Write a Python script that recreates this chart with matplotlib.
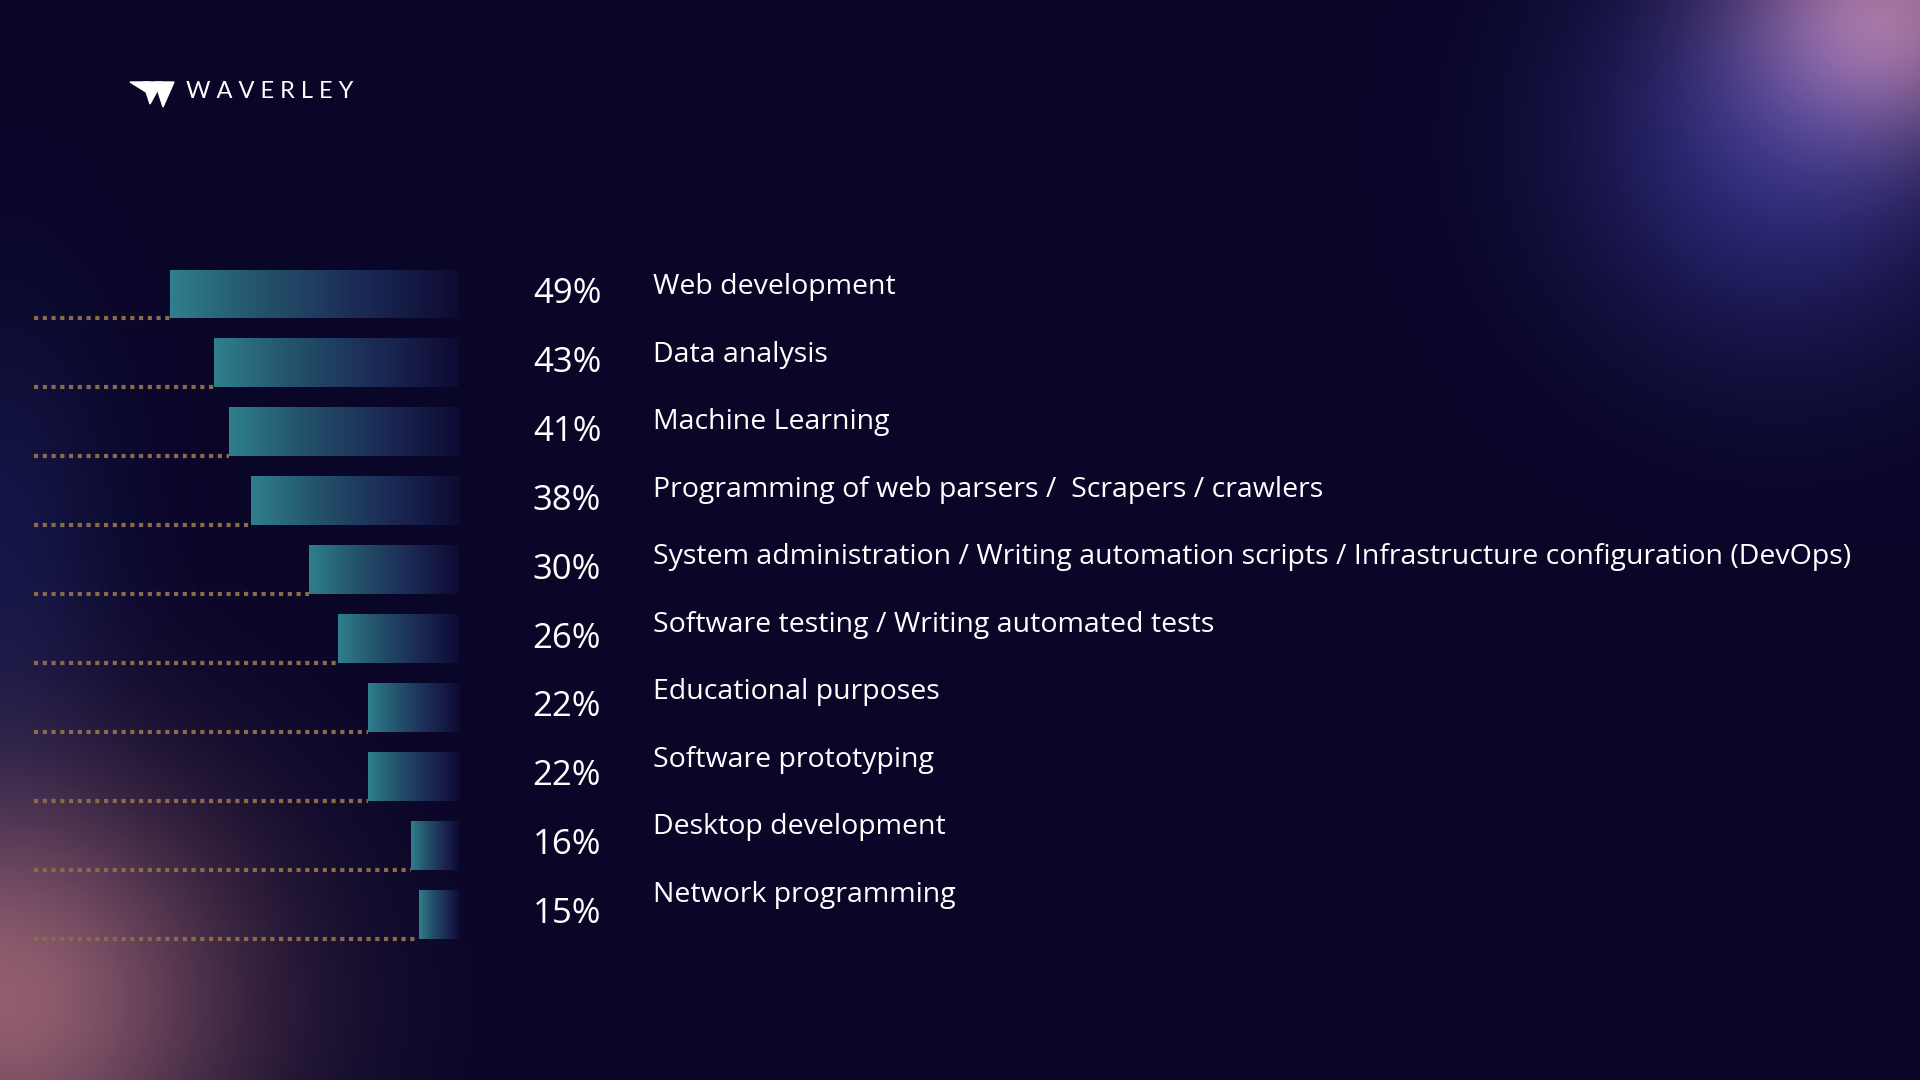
import numpy as np
import matplotlib.pyplot as plt
from matplotlib.patches import Polygon
from matplotlib.transforms import blended_transform_factory

categories = [
    "Web development",
    "Data analysis",
    "Machine Learning",
    "Programming of web parsers /  Scrapers / crawlers",
    "System administration / Writing automation scripts / Infrastructure configuration (DevOps)",
    "Software testing / Writing automated tests",
    "Educational purposes",
    "Software prototyping",
    "Desktop development",
    "Network programming",
]
values = [49, 43, 41, 38, 30, 26, 22, 22, 16, 15]

W, H = 1920, 1080
BG = np.array([10, 6, 40]) / 255

fig = plt.figure(figsize=(19.2, 10.8), dpi=100)

# background with soft glows
bg = fig.add_axes([0, 0, 1, 1])
yy, xx = np.mgrid[0:H:2, 0:W:2]
img = np.ones(yy.shape + (3,)) * BG


def glow(cx, cy, rx, ry, color, strength):
    d = ((xx - cx) / rx) ** 2 + ((yy - cy) / ry) ** 2
    a = strength * np.exp(-d)
    return a[..., None] * (np.array(color) - BG)


img += glow(1780, 140, 200, 200, [0.22, 0.22, 0.6], 0.75)
img += glow(1890, 10, 150, 130, [0.72, 0.48, 0.55], 0.8)
img += glow(0, 1000, 240, 220, [0.7, 0.45, 0.5], 0.8)
img += glow(0, 560, 110, 240, [0.15, 0.2, 0.5], 0.35)
bg.imshow(np.clip(img, 0, 1), extent=[0, W, H, 0], aspect="auto")
bg.set_xlim(0, W)
bg.set_ylim(H, 0)
bg.axis("off")

# logo
bg.add_patch(Polygon([[130, 82], [150, 82], [146, 92]], color="white"))
bg.add_patch(Polygon([[143, 82], [162, 82], [150, 104]], color="white"))
bg.add_patch(Polygon([[155, 82], [174, 82], [163, 107]], color="white"))
bg.text(186, 91, "W A V E R L E Y", color="white", fontsize=17, family="Lato",
        va="center", ha="left")

# bars
px_per_unit = 7.31
right_px = 459
zero = 9.5
xmax = zero + right_px / px_per_unit
row_px = 68.9
top_units = 294 / row_px
ax = fig.add_axes([0, 0, right_px / W, 1])
ax.axis("off")
ax.patch.set_alpha(0)

ypos = np.arange(len(values))
bh = 0.71
bars = ax.barh(ypos, [v - zero for v in values], left=zero, height=bh,
               color="none", edgecolor="none")
grad = np.linspace(0, 1, 256)[None, :]
cmap = plt.matplotlib.colors.LinearSegmentedColormap.from_list(
    "g", ["#2f7f8c", "#23506a", "#1b2a55", "#0e0a33"])
for bar, v in zip(bars, values):
    im = ax.imshow(grad, cmap=cmap, extent=[v, zero, bar.get_y() + bh, bar.get_y()],
                   aspect="auto", zorder=2)
    im.set_clip_path(bar)
    ax.plot([xmax - 28 * 1.2245 / px_per_unit, v], [bar.get_y() + bh] * 2,
            color="#8a6a4a", lw=3, ls=(0, (1, 1.1)), zorder=1)
ax.set_xlim(xmax, zero)
ax.set_ylim(H / row_px - top_units, -top_units)

tr = blended_transform_factory(fig.transFigure, ax.transData)
for i, (c, v) in enumerate(zip(categories, values)):
    fig.text(567 / W, i + 0.0, f"{v}%", transform=tr, color="white", fontsize=25,
             family="Open Sans", weight="medium", ha="center", va="center")
    fig.text(653 / W, i - 0.1 - 0.02 * i, c, transform=tr, color="white", fontsize=20.5,
             family="Open Sans", weight="medium", ha="left", va="center")

fig.savefig("out.png", dpi=100, facecolor=BG)
